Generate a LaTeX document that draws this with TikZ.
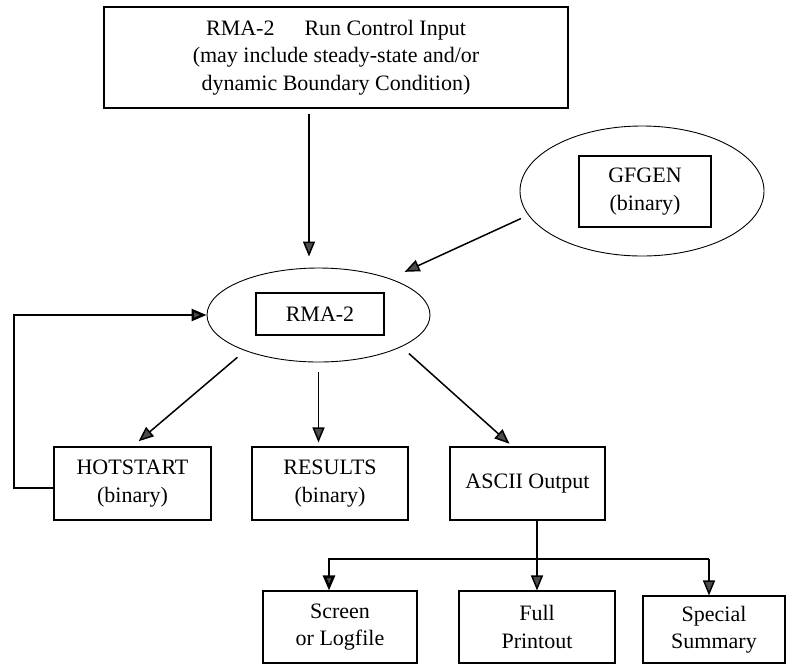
\documentclass[tikz,border=0pt]{standalone}
\usepackage{fontspec}
\setmainfont{Liberation Serif}
\usepackage{tikz}
\usetikzlibrary{shapes.geometric, arrows.meta}

\begin{document}
\begin{tikzpicture}[x=1pt, y=-1pt,
    font=\fontsize{22}{27.5}\selectfont,
    box/.style={draw, line width=1.1pt, inner sep=0pt, align=center},
    oval/.style={draw, ellipse, line width=0.9pt, inner sep=0pt},
    arr/.style={line width=1.5pt, -{Triangle[length=15pt, width=12pt, fill=black!70]}}]
  \useasboundingbox (0,0) rectangle (791,665);
  % input
  \node[box, minimum width=464pt, minimum height=101pt] (ctrl) at (336,57.5)
    {RMA-2\hspace{30pt}Run Control Input\\(may include steady-state and/or\\dynamic Boundary Condition)};
  \node[oval, minimum width=244pt, minimum height=130pt] (gfgen) at (642,191) {};
  \node[box, minimum width=132pt, minimum height=71pt] (gfgenbox) at (645,191.5) {GFGEN\\(binary)};
  % model
  \node[oval, minimum width=223pt, minimum height=94pt] (rma) at (318.5,315) {};
  \node[box, minimum width=128pt, minimum height=42pt] (rmabox) at (320,314) {RMA-2};
  % files
  \node[box, minimum width=157pt, minimum height=73pt] (hot) at (132.5,483.5) {HOTSTART\\(binary)};
  \node[box, minimum width=156pt, minimum height=73pt] (res) at (330,483.5) {RESULTS\\(binary)};
  \node[box, minimum width=155pt, minimum height=73pt] (ascii) at (527.5,483.5) {ASCII Output};
  % printouts
  \node[box, minimum width=154pt, minimum height=72pt] (scr) at (340,627) {Screen\\or Logfile};
  \node[box, minimum width=156pt, minimum height=72pt] (full) at (537,627) {Full\\Printout};
  \node[box, minimum width=142pt, minimum height=67pt] (spec) at (714,629.5) {Special\\Summary};

  \coordinate (topin) at ([xshift=-9.5pt]rma.north);
  \coordinate (loop) at (14,315);
  \coordinate (bus) at (537,559);
  \coordinate (scrin) at ([xshift=-11pt]scr.north);
  \coordinate (specin) at ([xshift=-5pt]spec.north);

  \draw[arr, shorten <=5pt, shorten >=11pt] (topin |- ctrl.south) -- (topin);
  \draw[arr, shorten <=8pt, shorten >=16pt] (gfgen.192) -- (rma.27);
  \draw[arr, line width=2.4pt] ([yshift=-4.5pt]hot.west) -| (loop) -- (rma.west);
  \draw[arr, shorten <=10pt, shorten >=8pt] (rma.206) -- (hot.north);
  \draw[arr, shorten <=10pt, shorten >=4pt] (rma.south) -- (rma.south |- res.north);
  \draw[arr, shorten <=10pt, shorten >=4pt] (rma.-21) -- ([xshift=-15pt]ascii.north);
  % outputs
  \draw[arr] (ascii.south -| full.north) -- (full.north);
  \draw[arr, line width=2.6pt] (specin |- bus) -- (scrin |- bus) -- (scrin);
  \draw[arr] (specin |- bus) -- (specin);
\end{tikzpicture}
\end{document}
